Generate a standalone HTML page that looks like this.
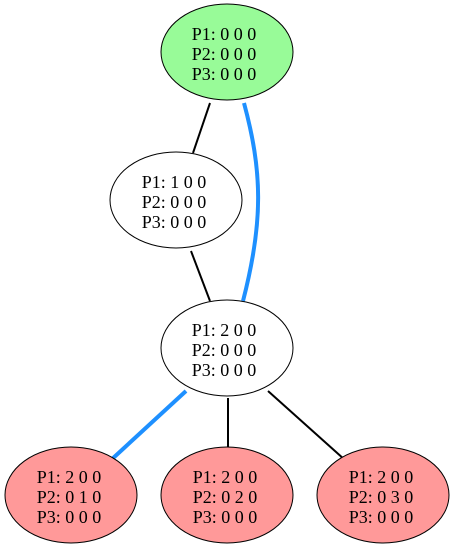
<!DOCTYPE html>
<html><head><style>body{margin:0;background:#fff}svg{display:block}</style></head>
<body>
<svg width="455" height="554" xmlns="http://www.w3.org/2000/svg">
<g stroke="#000" stroke-width="2" fill="none">
<line x1="210" y1="103" x2="193" y2="153"/>
<line x1="191" y1="251" x2="210" y2="301"/>
<line x1="228" y1="398" x2="228" y2="448"/>
<line x1="268" y1="391" x2="345" y2="460"/>
</g>
<g stroke="#1e90ff" stroke-width="4" fill="none">
<path d="M244,103 C262,170 264,220 243,301"/>
<line x1="186" y1="391" x2="111" y2="460"/>
</g>
<g stroke="#000" stroke-width="1">
<ellipse cx="227" cy="52" rx="66" ry="48" fill="#98fb98"/>
<ellipse cx="176" cy="200" rx="66" ry="48" fill="#fff"/>
<ellipse cx="227" cy="348" rx="66" ry="48" fill="#fff"/>
<ellipse cx="71" cy="495" rx="66" ry="48" fill="#ff9999"/>
<ellipse cx="227" cy="495" rx="66" ry="48" fill="#ff9999"/>
<ellipse cx="383" cy="495" rx="66" ry="48" fill="#ff9999"/>
</g>
<g text-anchor="middle" font-family="Liberation Serif, serif" font-size="18">
<text x="224" y="40">P1: 0 0 0</text><text x="224" y="60">P2: 0 0 0</text><text x="224" y="80">P3: 0 0 0</text>
<text x="174" y="188">P1: 1 0 0</text><text x="174" y="208">P2: 0 0 0</text><text x="174" y="228">P3: 0 0 0</text>
<text x="224" y="336">P1: 2 0 0</text><text x="224" y="356">P2: 0 0 0</text><text x="224" y="376">P3: 0 0 0</text>
<text x="69" y="483">P1: 2 0 0</text><text x="69" y="503">P2: 0 1 0</text><text x="69" y="523">P3: 0 0 0</text>
<text x="225" y="483">P1: 2 0 0</text><text x="225" y="503">P2: 0 2 0</text><text x="225" y="523">P3: 0 0 0</text>
<text x="381" y="483">P1: 2 0 0</text><text x="381" y="503">P2: 0 3 0</text><text x="381" y="523">P3: 0 0 0</text>
</g>
</svg>
</body></html>
